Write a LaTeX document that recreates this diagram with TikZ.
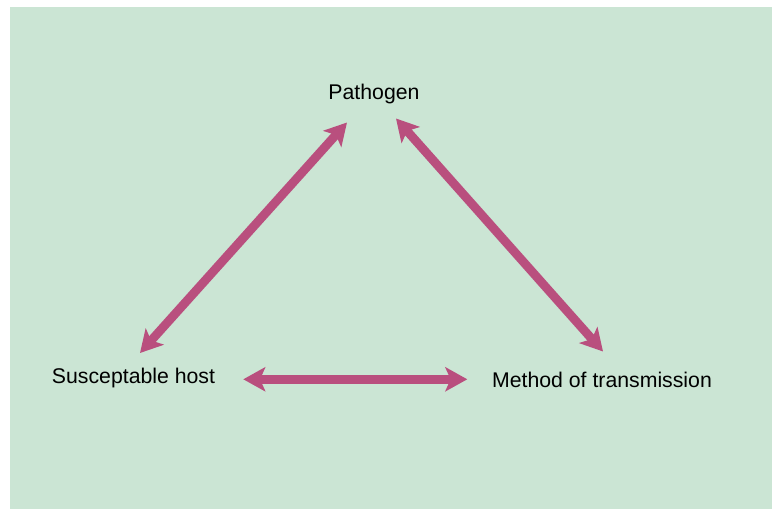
\documentclass[tikz,border=0pt]{standalone}
\usepackage{fontspec}
\setmainfont{Liberation Sans}
\usetikzlibrary{arrows.meta}
\definecolor{panelgreen}{HTML}{CBE5D4}
\definecolor{linkpink}{HTML}{B94F7E}

\begin{document}
\begin{tikzpicture}[x=0.02cm,y=-0.02cm,
  label/.style={inner sep=0pt,font=\fontsize{12.1}{14}\selectfont},
  link/.style={{Stealth[length=12.5pt,width=13.7pt,inset=3pt]}-{Stealth[length=12.5pt,width=13.7pt,inset=3pt]},
    line width=5pt,draw=linkpink,fill=linkpink}]
\useasboundingbox (0,0) rectangle (772,509);
\fill[panelgreen] (10,7) rectangle (772,509);
\node[label] (path) at (374,94) {Pathogen};
\node[label] (host) at (133.5,378) {Susceptable host};
\node[label] (meth) at (602,380) {Method of transmission};
\coordinate (hostA) at (140,353);
\coordinate (pathA) at (347,122.5);
\coordinate (pathB) at (396,118.5);
\coordinate (methB) at (603,351.5);
\coordinate (hostC) at (243.3,379.3);
\coordinate (methC) at (467.3,379.3);
\draw[link] (hostA) -- (pathA);
\draw[link] (pathB) -- (methB);
\draw[link] (hostC) -- (methC);
\end{tikzpicture}
\end{document}
